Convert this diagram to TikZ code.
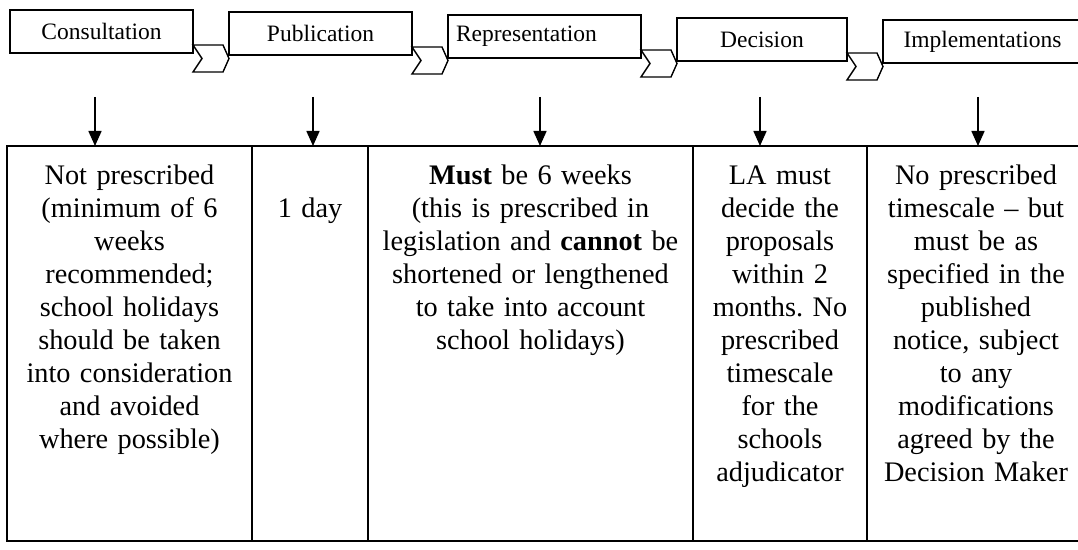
\documentclass[tikz,border=0pt]{standalone}
\usepackage{fontspec}
\setmainfont{Liberation Serif}
\usetikzlibrary{positioning,arrows.meta}
\tikzset{
  stagebox/.style={draw,rectangle,line width=0.7pt,minimum height=21.5pt,inner sep=0pt,outer sep=0pt,
    font=\fontsize{11.75pt}{14pt}\selectfont},
  cellbox/.style={draw,rectangle,line width=0.8pt,minimum height=197.5pt,inner sep=0pt,outer sep=0pt},
  celltext/.style={align=center,inner sep=0pt,anchor=base,font=\fontsize{14.15pt}{16.5pt}\selectfont},
  stagearrow/.style={-{Triangle[width=6.5pt,length=7.5pt]},line width=0.8pt},
  chevron/.pic={\draw[line width=0.7pt] (0,0) -- (30,0) -- (36,13.5) -- (30,27) -- (0,27) -- (9,13.5) -- cycle;}
}
\frenchspacing

\begin{document}
\begin{tikzpicture}[x=0.5pt,y=-0.5pt]
\useasboundingbox (0,0) rectangle (1078,550);

% the five stages
\node[stagebox,minimum width=91.5pt] (cons) at (101.5,31.5) {Consultation};
\node[stagebox,minimum width=91.5pt,right=18pt of cons,yshift=-1pt] (pub) {Publication};
\node[stagebox,text width=88.5pt,inner xsep=4pt,align=left,right=18pt of pub,yshift=-1.5pt] (rep) {Representation};
\node[stagebox,minimum width=85pt,right=18pt of rep,yshift=-1.5pt] (dec) {Decision};
\node[stagebox,minimum width=99.5pt,right=18pt of dec,yshift=-1pt] (impl) {Implementations};

\pic at ([yshift=4pt]cons.south east) {chevron};
\pic at ([yshift=4pt]pub.south east) {chevron};
\pic at ([yshift=4pt]rep.south east) {chevron};
\pic at ([yshift=4pt]dec.south east) {chevron};

% timescales
\node[cellbox,minimum width=122.5pt,anchor=north west] (c1) at (7,146) {};
\node[cellbox,minimum width=58pt,right=0pt of c1] (c2) {};
\node[cellbox,minimum width=162.5pt,right=0pt of c2] (c3) {};
\node[cellbox,minimum width=87pt,right=0pt of c3] (c4) {};
\node[cellbox,minimum width=109pt,right=0pt of c4] (c5) {};

\node[celltext,text width=120pt] (t1) at (c1.north |- 0,185)
  {Not prescribed\\(minimum of 6\\weeks\\recommended;\\school holidays\\should be taken\\into consideration\\and avoided\\where possible)};
\node[celltext,text width=56pt] (t2) at (c2.north |- 0,218) {1 day};
\node[celltext,text width=160pt] (t3) at (c3.north |- 0,185)
  {\textbf{Must} be 6 weeks\\(this is prescribed in\\legislation and \textbf{cannot} be\\shortened or lengthened\\to take into account\\school holidays)};
\node[celltext,text width=85pt] (t4) at (c4.north |- 0,185)
  {LA must\\decide the\\proposals\\within 2\\months. No\\prescribed\\timescale\\for the\\schools\\adjudicator};
\node[celltext,text width=107pt] (t5) at (c5.north |- 0,185)
  {No prescribed\\timescale -- but\\must be as\\specified in the\\published\\notice, subject\\to any\\modifications\\agreed by the\\Decision Maker};

\foreach \i/\x in {1/95,2/313,3/540,4/760,5/978}{
  \coordinate (a\i) at (\x,97);
  \draw[stagearrow] (a\i) -- (a\i |- c\i.north);
}
\end{tikzpicture}
\end{document}
